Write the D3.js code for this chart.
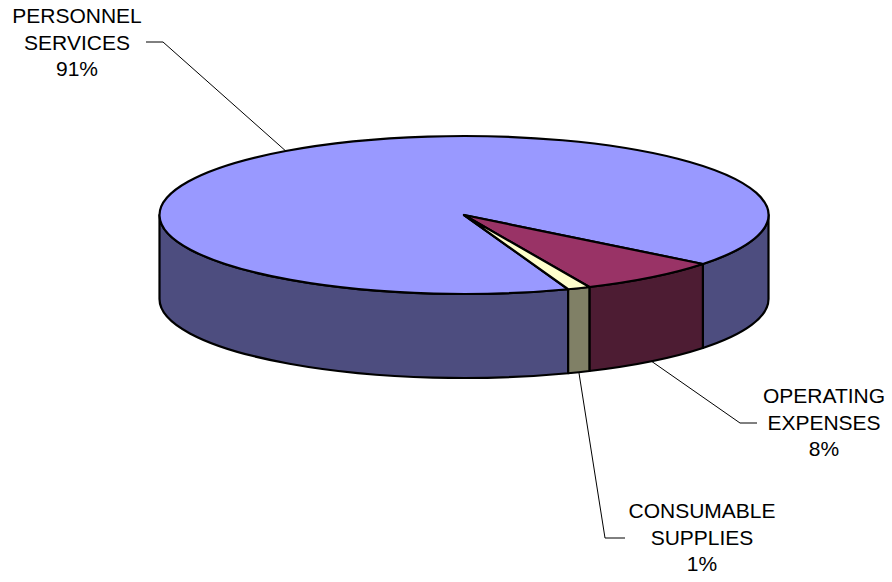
<!DOCTYPE html>
<html>
<head>
<meta charset="utf-8">
<script src="https://cdn.jsdelivr.net/npm/d3@7"></script>
<style>
  html, body { margin: 0; padding: 0; background: #fff; }
  svg { display: block; }
  text { font-family: "Liberation Sans", Arial, sans-serif; font-size: 21px; fill: #000; }
</style>
</head>
<body>
<svg id="chart" width="892" height="582"></svg>
<script>
// Budget share by category
const categories = ["PERSONNEL SERVICES", "OPERATING EXPENSES", "CONSUMABLE SUPPLIES"];
const labelLines = [["PERSONNEL", "SERVICES"], ["OPERATING", "EXPENSES"], ["CONSUMABLE", "SUPPLIES"]];
const shares = [91.2, 7.6, 1.2];
const topColors = ["#9999FF", "#993366", "#FFFFCC"];
const sideColors = ["#4D4D7F", "#4D1C33", "#808066"];

// Where each label block sits and where its leader line elbows
const labelPos = [
  { x: 77, y: 23, elbow: [163, 42], end: [146, 42] },
  { x: 824, y: 403, elbow: [740, 423], end: [757, 423] },
  { x: 702, y: 518, elbow: [605, 538], end: [625, 538] }
];

const svg = d3.select("#chart");
const cx = 464, cy = 215, rx = 304.5, ry = 79, depth = 84;
const lineH = 26.7;

const pie = d3.pie().sort(null).value(d => d)
  .startAngle(160 * Math.PI / 180)
  .endAngle(160 * Math.PI / 180 + 2 * Math.PI);
const arcs = pie(shares);

// d3 angle (clockwise from 12 o'clock) -> screen angle (clockwise from 3 o'clock)
const toScreen = a => a - Math.PI / 2;
const px = (t, dy = 0) => [cx + rx * Math.cos(t), cy + ry * Math.sin(t) + dy];

function arcSeg(t0, t1, dy) {
  const large = (t1 - t0) > Math.PI ? 1 : 0;
  const p = px(t1, dy);
  return `A${rx},${ry} 0 ${large} 1 ${p[0]},${p[1]}`;
}
function arcSegRev(t0, t1, dy) {
  const large = (t1 - t0) > Math.PI ? 1 : 0;
  const p = px(t0, dy);
  return `A${rx},${ry} 0 ${large} 0 ${p[0]},${p[1]}`;
}

// Visible (front) portions of the outer wall: screen angles in [0, PI] modulo 2PI
const sides = [];
arcs.forEach((d, i) => {
  const t0 = toScreen(d.startAngle), t1 = toScreen(d.endAngle);
  for (let k = -1; k <= 2; k++) {
    const lo = Math.max(t0, k * 2 * Math.PI), hi = Math.min(t1, k * 2 * Math.PI + Math.PI);
    if (hi > lo + 1e-6) sides.push({ i, lo, hi });
  }
});

svg.append("g").selectAll("path").data(sides).join("path")
  .attr("d", s => {
    const a = px(s.lo), b = px(s.hi, depth);
    return `M${a[0]},${a[1]}` + arcSeg(s.lo, s.hi, 0) +
      `L${b[0]},${b[1]}` + arcSegRev(s.lo, s.hi, depth) + "Z";
  })
  .attr("fill", s => sideColors[s.i])
  .attr("stroke", "#000").attr("stroke-width", 2.2).attr("stroke-linejoin", "round");

// Top faces
svg.append("g").selectAll("path").data(arcs).join("path")
  .attr("d", d => {
    const t0 = toScreen(d.startAngle), t1 = toScreen(d.endAngle);
    const a = px(t0);
    return `M${cx},${cy}L${a[0]},${a[1]}` + arcSeg(t0, t1, 0) + "Z";
  })
  .attr("fill", (d, i) => topColors[i])
  .attr("stroke", "#000").attr("stroke-width", 2.2).attr("stroke-linejoin", "round");

// Leader lines anchored at each slice's mid-angle (front slices on the wall's lower rim)
const leaders = svg.append("g");
arcs.forEach((d, i) => {
  const tm = toScreen((d.startAngle + d.endAngle) / 2);
  const front = Math.sin(tm) > 0;
  const anchor = px(tm, front ? depth : 0);
  const L = labelPos[i];
  leaders.append("polyline")
    .attr("points", [anchor, L.elbow, L.end].map(p => p.join(",")).join(" "))
    .attr("fill", "none").attr("stroke", "#000").attr("stroke-width", 1);
});

// Labels: category on two lines plus rounded percentage
const total = d3.sum(shares);
const labels = svg.append("g");
arcs.forEach((d, i) => {
  const L = labelPos[i];
  const lines = labelLines[i].concat([Math.round(d.value / total * 100) + "%"]);
  const t = labels.append("text").attr("text-anchor", "middle");
  lines.forEach((s, k) => {
    t.append("tspan").attr("x", L.x).attr("y", L.y + k * lineH).text(s);
  });
});
</script>
</body>
</html>
